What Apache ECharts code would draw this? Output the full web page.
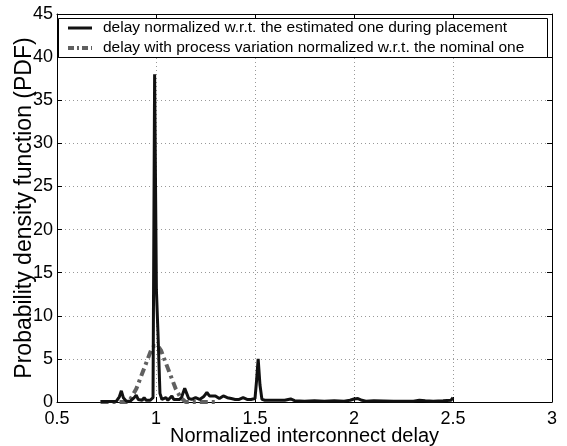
<!DOCTYPE html>
<html><head><meta charset="utf-8">
<script src="https://cdn.jsdelivr.net/npm/echarts@6/dist/echarts.min.js"></script>
<style>html,body{margin:0;padding:0;background:#fff}#c{width:567px;height:446px}</style>
</head><body><div id="c"></div>
<script>
var xTicks = [0.5, 1, 1.5, 2, 2.5, 3];
var yTicks = [0, 5, 10, 15, 20, 25, 30, 35, 40, 45];
var seriesNames = [
  'delay normalized w.r.t. the estimated one during placement',
  'delay with process variation normalized w.r.t. the nominal one'
];
var placeX = [0.72,0.78,0.80,0.815,0.825,0.835,0.85,0.87,0.89,0.90,0.91,0.93,0.94,0.95,0.96,0.97,0.985,0.993,1.002,1.01,1.02,1.03,1.04,1.05,1.06,1.07,1.08,1.09,1.10,1.12,1.13,1.145,1.155,1.165,1.18,1.2,1.22,1.24,1.257,1.27,1.28,1.30,1.32,1.34,1.36,1.38,1.40,1.42,1.44,1.46,1.48,1.50,1.508,1.516,1.525,1.535,1.55,1.6,1.65,1.68,1.7,1.75,1.8,1.85,1.9,1.95,1.98,2.0,2.02,2.04,2.06,2.1,2.2,2.3,2.33,2.36,2.4,2.45,2.49,2.5,2.5];
var placeY = [0.05,0.05,0.1,0.6,1.3,0.5,0.1,0.1,0.5,0.8,0.3,0.2,0.5,0.2,0.3,0.2,0.5,38,13,8,1.0,0.3,0.2,0.5,0.2,0.3,0.7,0.3,0.5,0.3,0.6,1.6,1.0,0.4,0.3,0.5,0.3,0.6,1.1,0.7,0.5,0.7,0.4,0.7,0.5,0.4,0.3,0.3,0.5,0.3,0.3,0.4,2.5,5,2,0.3,0.2,0.2,0.2,0.35,0.15,0.1,0.15,0.1,0.15,0.1,0.2,0.35,0.4,0.2,0.1,0.15,0.1,0.1,0.2,0.15,0.1,0.15,0.2,0.1,0.5];
var varX = [0.72,0.80,0.86,0.875,0.9,0.925,0.95,0.975,0.99,1.0,1.01,1.025,1.05,1.075,1.1,1.125,1.15,1.2,1.3];
var varY = [0,0,0,0.5,1.5,3.0,4.5,6.0,6.5,6.6,6.5,6.0,4.5,3.0,1.5,0.5,0,0,0];

function pairs(xs, ys){ var out=[]; for(var i=0;i<xs.length;i++) out.push([xs[i], ys[i]]); return out; }

var chart = echarts.init(document.getElementById('c'), null, {renderer:'canvas'});
var font = 'Liberation Sans, Arial, sans-serif';
var blackStyle = {color:'#111', width:3};
var greyStyle = {color:'#606060', width:4, type:[8,4,3,4]};
var axisCommon = {
  axisLine: {show:true, onZero:false, lineStyle:{color:'#000', width:1}},
  axisTick: {show:true, inside:true, length:5, lineStyle:{color:'#000'}},
  splitLine: {show:false}
};
chart.setOption({
  animation: false,
  grid: {left:57, right:15, top:14, bottom:44, containLabel:false, outerBoundsMode:'none'},
  graphic: [
    {type:'rect', shape:{x:58.5, y:18.5, width:489, height:39}, style:{fill:'#fff', stroke:'#000', lineWidth:1}, z:100},
    {type:'line', shape:{x1:68, y1:28, x2:92, y2:28}, style:{stroke:blackStyle.color, lineWidth:3}, z:101},
    {type:'line', shape:{x1:68, y1:48, x2:92, y2:48}, style:{stroke:greyStyle.color, lineWidth:4, lineDash:[6,3,2,3]}, z:101},
    {type:'text', x:103, y:28, style:{text:seriesNames[0], font:'15.5px Liberation Sans, Arial, sans-serif', fill:'#000', verticalAlign:'middle'}, z:101},
    {type:'text', x:103, y:48, style:{text:seriesNames[1], font:'15.5px Liberation Sans, Arial, sans-serif', fill:'#000', verticalAlign:'middle'}, z:101}
  ],
  xAxis: [
    Object.assign({}, axisCommon, {
      type:'value', min:0.5, max:3, interval:0.5, position:'bottom',
      axisLabel:{show:true, margin:8, fontFamily:font, fontSize:18, color:'#000',
        formatter:function(v){ return xTicks.indexOf(v)>=0 ? String(v) : ''; }},
      splitLine:{show:true, lineStyle:{type:[1,3], color:'#999', width:1}},
      name:'Normalized interconnect delay', nameLocation:'middle', nameGap:24, nameMoveOverlap:false,
      nameTextStyle:{fontFamily:font, fontSize:20, color:'#000'}
    }),
    Object.assign({}, axisCommon, {
      type:'value', min:0.5, max:3, interval:0.5, position:'top',
      axisLabel:{show:false}
    })
  ],
  yAxis: [
    Object.assign({}, axisCommon, {
      type:'value', min:0, max:45, interval:5, position:'left',
      axisLabel:{show:true, margin:4, fontFamily:font, fontSize:18, color:'#000',
        formatter:function(v){ return yTicks.indexOf(v)>=0 ? String(v) : ''; }},
      splitLine:{show:true, lineStyle:{type:[1,3], color:'#999', width:1}},
      name:'Probability density function (PDF)', nameLocation:'middle', nameGap:21, nameMoveOverlap:false,
      nameTextStyle:{fontFamily:font, fontSize:23, color:'#000'}
    }),
    Object.assign({}, axisCommon, {
      type:'value', min:0, max:45, interval:5, position:'right',
      axisLabel:{show:false}
    })
  ],
  series: [
    {
      name: seriesNames[1], type:'line', data: pairs(varX, varY),
      showSymbol:false, symbol:'none', z:2,
      lineStyle:greyStyle, itemStyle:{color:greyStyle.color}
    },
    {
      name: seriesNames[0], type:'line', data: pairs(placeX, placeY),
      showSymbol:false, symbol:'none', z:3,
      lineStyle:blackStyle, itemStyle:{color:'#111'}
    }
  ]
});
</script></body></html>
